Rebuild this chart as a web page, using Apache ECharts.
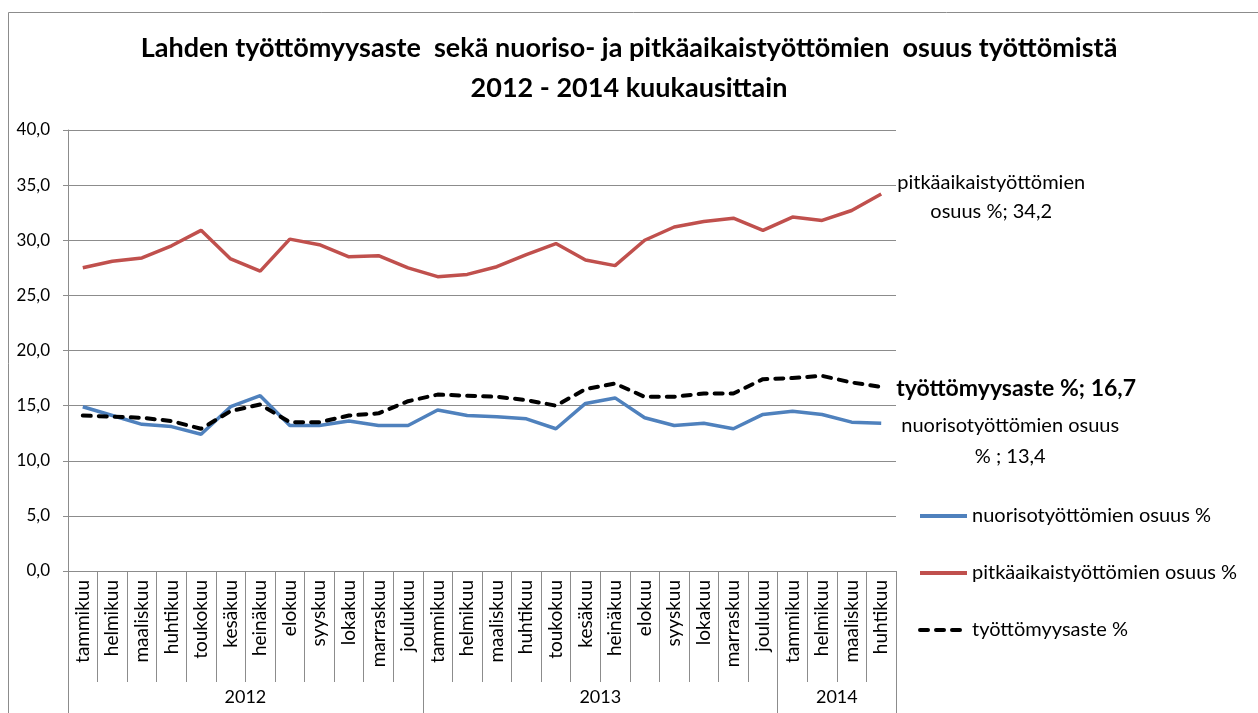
<!DOCTYPE html>
<html>
<head>
<meta charset="utf-8">
<title>Lahden työttömyysaste</title>
<script src="https://cdn.jsdelivr.net/npm/echarts@6/dist/echarts.min.js"></script>
<style>
  html, body { margin: 0; padding: 0; background: #fff; }
  #chart { width: 1258px; height: 713px; }
</style>
</head>
<body>
<div id="chart"></div>
<script>
// kuukaudet 1/2012 - 4/2014
const months = [
  'tammikuu', 'helmikuu', 'maaliskuu', 'huhtikuu', 'toukokuu', 'kesäkuu',
  'heinäkuu', 'elokuu', 'syyskuu', 'lokakuu', 'marraskuu', 'joulukuu',
  'tammikuu', 'helmikuu', 'maaliskuu', 'huhtikuu', 'toukokuu', 'kesäkuu',
  'heinäkuu', 'elokuu', 'syyskuu', 'lokakuu', 'marraskuu', 'joulukuu',
  'tammikuu', 'helmikuu', 'maaliskuu', 'huhtikuu'
]
const years = ['2012', '2013', '2014']
const yearStarts = [0, 12, 24, 28]

const nuoriso = [
  14.9, 14.1, 13.3, 13.1, 12.4, 14.9, 15.9, 13.2, 13.2, 13.6, 13.2, 13.2,
  14.6, 14.1, 14.0, 13.8, 12.9, 15.2, 15.7, 13.9, 13.2, 13.4, 12.9, 14.2,
  14.5, 14.2, 13.5, 13.4
]
const pitka = [
  27.5, 28.1, 28.4, 29.5, 30.9, 28.3, 27.2, 30.1, 29.6, 28.5, 28.6, 27.5,
  26.7, 26.9, 27.6, 28.7, 29.7, 28.2, 27.7, 30.0, 31.2, 31.7, 32.0, 30.9,
  32.1, 31.8, 32.7, 34.2
]
const tyottomyys = [
  14.1, 14.0, 13.9, 13.6, 12.9, 14.5, 15.1, 13.5, 13.5, 14.1, 14.3, 15.4,
  16.0, 15.9, 15.8, 15.5, 15.0, 16.5, 17.0, 15.8, 15.8, 16.1, 16.1, 17.4,
  17.5, 17.7, 17.1, 16.7
]

const yMin = 0
const yMax = 40
const yStep = 5

const FONT = 'Lato, "Noto Sans", sans-serif'
const GRID = '#8c8c8c'

const fmt = v => Number(v).toFixed(1).replace('.', ',')

const yearMids = years.map((y, i) => (yearStarts[i] + yearStarts[i + 1]) / 2)

const chart = echarts.init(document.getElementById('chart'), null, { renderer: 'canvas' })

chart.setOption({
  backgroundColor: '#fff',
  animation: false,
  textStyle: { fontFamily: FONT },
  title: {
    text: 'Lahden työttömyysaste  sekä nuoriso- ja pitkäaikaistyöttömien  osuus työttömistä\n2012 - 2014 kuukausittain',
    left: 'center',
    top: 23,
    textStyle: { fontFamily: FONT, fontSize: 27, fontWeight: 'bold', color: '#000', lineHeight: 40 }
  },
  graphic: [{
    type: 'rect',
    shape: { x: 8.5, y: 12.5, width: 1400, height: 800 },
    style: { fill: 'none', stroke: GRID, lineWidth: 1 },
    silent: true
  }],
  legend: {
    orient: 'vertical',
    left: 913,
    top: 501,
    itemWidth: 47,
    itemHeight: 14,
    itemGap: 37,
    itemStyle: { opacity: 0 },
    lineStyle: { width: 4 },
    textStyle: { fontFamily: FONT, fontSize: 20, color: '#000' },
    data: ['nuorisotyöttömien osuus %', 'pitkäaikaistyöttömien osuus %', 'työttömyysaste %']
  },
  grid: { left: 68, right: 362, top: 130, bottom: 142 },
  xAxis: [{
    type: 'category',
    data: months,
    boundaryGap: true,
    axisLine: { show: true, lineStyle: { color: GRID } },
    axisTick: { show: true, interval: 0, length: 111, lineStyle: { color: GRID } },
    axisLabel: { interval: 0, rotate: 90, margin: 9, fontSize: 19, color: '#000', fontFamily: FONT }
  }, {
    type: 'value',
    position: 'bottom',
    min: 0,
    max: months.length,
    axisLine: { show: false },
    splitLine: { show: false },
    axisTick: { show: true, customValues: yearStarts, length: 142, lineStyle: { color: GRID } },
    axisLabel: {
      customValues: yearMids,
      margin: 117,
      fontSize: 18,
      color: '#000',
      fontFamily: FONT,
      formatter: v => years[yearMids.indexOf(v)] || ''
    }
  }],
  yAxis: {
    type: 'value',
    min: yMin,
    max: yMax,
    interval: yStep,
    axisLine: { show: true, lineStyle: { color: GRID } },
    axisTick: { show: true, length: 5, lineStyle: { color: GRID } },
    axisLabel: { fontSize: 17, color: '#000', margin: 18, fontFamily: FONT, formatter: fmt },
    splitLine: { show: true, lineStyle: { color: GRID, width: 1 } }
  },
  series: [{
    name: 'nuorisotyöttömien osuus %',
    type: 'line',
    data: nuoriso,
    symbol: 'none',
    color: '#4f81bd',
    lineStyle: { width: 3.5, color: '#4f81bd' },
    endLabel: {
      show: true,
      align: 'center',
      offset: [121, 18],
      fontSize: 20,
      lineHeight: 31,
      color: '#000',
      fontFamily: FONT,
      formatter: p => 'nuorisotyöttömien osuus\n% ; ' + fmt(p.value)
    }
  }, {
    name: 'pitkäaikaistyöttömien osuus %',
    type: 'line',
    data: pitka,
    symbol: 'none',
    color: '#c0504d',
    lineStyle: { width: 3.5, color: '#c0504d' },
    endLabel: {
      show: true,
      align: 'center',
      offset: [102, 3],
      fontSize: 20,
      lineHeight: 29,
      color: '#000',
      fontFamily: FONT,
      formatter: p => 'pitkäaikaistyöttömien\nosuus %; ' + fmt(p.value)
    }
  }, {
    name: 'työttömyysaste %',
    type: 'line',
    data: tyottomyys,
    symbol: 'none',
    color: '#000',
    lineStyle: { width: 4, color: '#000', type: [8, 8], cap: 'round' },
    endLabel: {
      show: true,
      align: 'left',
      offset: [7, 2],
      fontSize: 23,
      fontWeight: 'bold',
      color: '#000',
      fontFamily: FONT,
      formatter: p => 'työttömyysaste %; ' + fmt(p.value)
    }
  }]
})

window.addEventListener('resize', () => chart.resize())
</script>
</body>
</html>
